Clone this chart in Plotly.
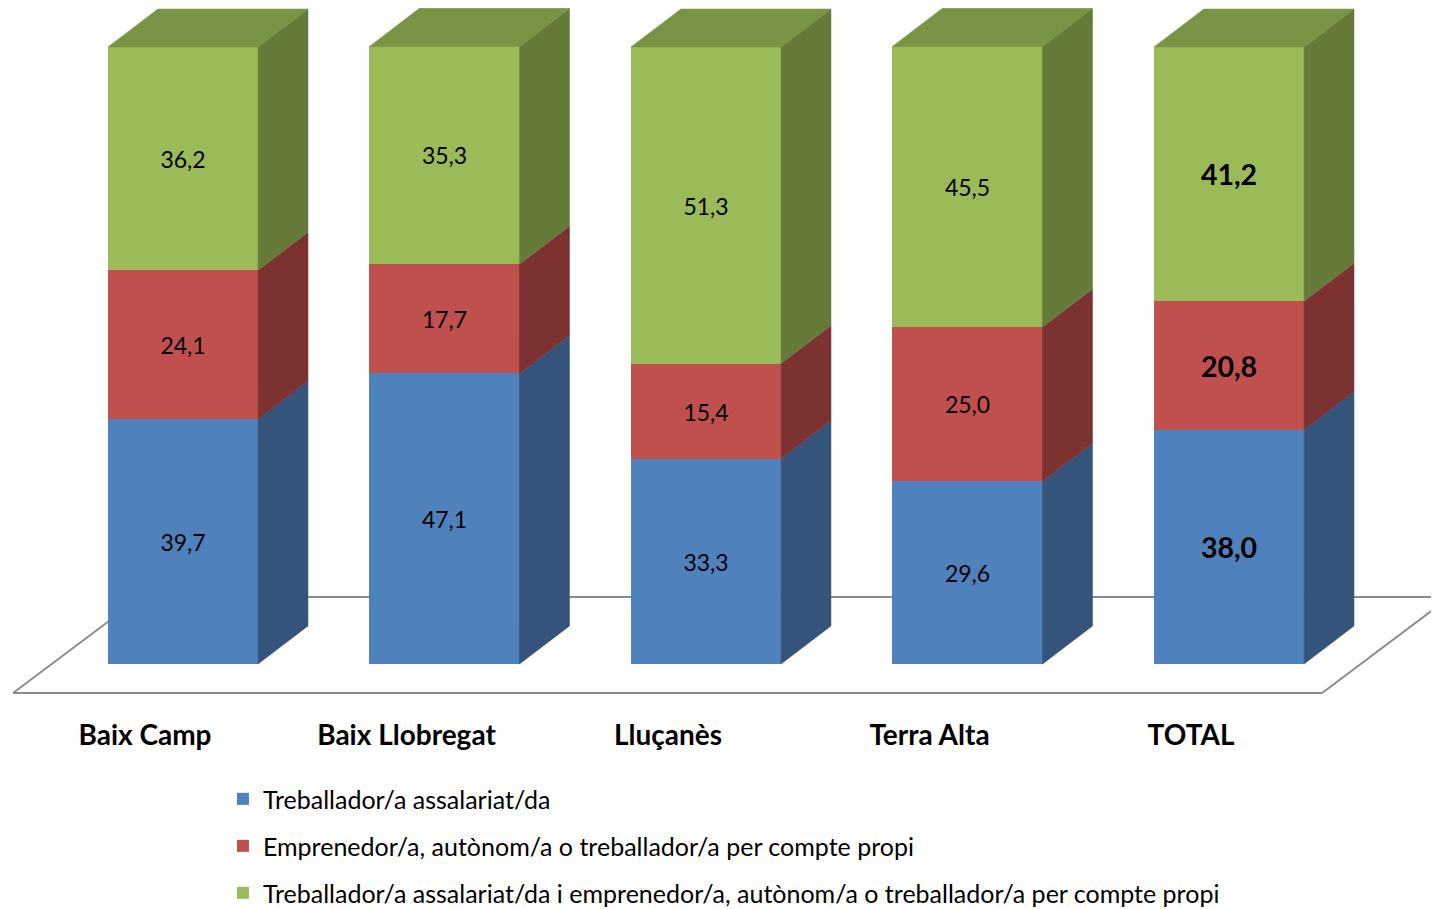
import plotly.graph_objects as go

# ---- data ----
categories = ["Baix Camp", "Baix Llobregat", "Lluçanès", "Terra Alta", "TOTAL"]
series_names = [
    "Treballador/a assalariat/da",
    "Emprenedor/a, autònom/a o treballador/a per compte propi",
    "Treballador/a assalariat/da i emprenedor/a, autònom/a o treballador/a per compte propi",
]
assalariat = [39.7, 47.1, 33.3, 29.6, 38.0]
emprenedor = [24.1, 17.7, 15.4, 25.0, 20.8]
ambdos = [36.2, 35.3, 51.3, 45.5, 41.2]
bold_category = "TOTAL"

# ---- styling ----
front_colors = ["#4F81BD", "#C0504D", "#9BBB59"]
side_colors = ["#34547C", "#7B3230", "#667B39"]
top_color = "#7A9446"
BAR_W = 0.574          # bar width in category units
DX = 0.191             # depth offset (x, category units)
DY = 6.16              # depth offset (y, value units)
FONT = "Lato"

series = [assalariat, emprenedor, ambdos]
n = len(categories)
xs = list(range(n))


def fmt(v):
    return f"{v:.1f}".replace(".", ",")


fig = go.Figure()

# side and top faces (derived from the stacked values)
for i in range(n):
    base = 0.0
    xr = xs[i] + BAR_W / 2
    xl = xs[i] - BAR_W / 2
    for s, vals in enumerate(series):
        y0, y1 = base, base + vals[i]
        fig.add_trace(go.Scatter(
            x=[xr, xr + DX, xr + DX, xr, xr],
            y=[y0, y0 + DY, y1 + DY, y1, y0],
            fill="toself", fillcolor=side_colors[s], mode="lines",
            line=dict(color=side_colors[s], width=0.5),
            showlegend=False, hoverinfo="skip"))
        base = y1
    fig.add_trace(go.Scatter(
        x=[xl, xl + DX, xr + DX, xr, xl],
        y=[base, base + DY, base + DY, base, base],
        fill="toself", fillcolor=top_color, mode="lines",
        line=dict(color=top_color, width=0.5),
        showlegend=False, hoverinfo="skip"))

# front faces
for s, vals in enumerate(series):
    texts = [f"<b>{fmt(v)}</b>" if c == bold_category else fmt(v)
             for c, v in zip(categories, vals)]
    sizes = [28.5 if c == bold_category else 23 for c in categories]
    fig.add_trace(go.Bar(
        x=xs, y=vals, width=BAR_W, name=series_names[s],
        marker=dict(color=front_colors[s], line=dict(width=0)),
        text=texts, textposition="inside", insidetextanchor="middle",
        textangle=0, constraintext="none",
        textfont=dict(family=FONT, size=sizes, color="black"),
        legendgroup=f"g{s}", hoverinfo="skip"))

# floor (chart frame)
fx0, fx1 = -0.5 - 0.15, n - 0.5 - 0.144
fy_front, fy_back = -4.70, 10.86
fdx = 0.4895
floor_color = "#8C8C8C"
for (xa, ya, xb, yb) in [
    (fx0, fy_front, fx1, fy_front),
    (fx0, fy_front, fx0 + fdx, fy_back),
    (fx1, fy_front, fx1 + fdx, fy_back),
    (fx0 + fdx, fy_back, fx1 + fdx, fy_back),
]:
    fig.add_shape(type="line", x0=xa, y0=ya, x1=xb, y1=yb, layer="below",
                  line=dict(color=floor_color, width=2))

label_shift = 0.1453
fig.update_layout(
    width=1431, height=901,
    margin=dict(l=0, r=0, t=0, b=204, autoexpand=False),
    paper_bgcolor="white", plot_bgcolor="white",
    barmode="stack", bargap=0,
    font=dict(family=FONT, color="black"),
    xaxis=dict(range=[-0.6692, 4.803], showgrid=False, zeroline=False,
               showline=False, ticks="", ticklabelstandoff=11,
               tickvals=[x - label_shift for x in xs], ticktext=categories,
               tickfont=dict(family=FONT, size=28, color="black", weight="bold")),
    yaxis=dict(range=[-6.645, 106.32], showgrid=False, zeroline=False,
               showline=False, showticklabels=False, ticks=""),
    legend=dict(x=0.1502, y=-0.102, xanchor="left", yanchor="top",
                traceorder="grouped", tracegroupgap=11.5,
                font=dict(family=FONT, size=25, color="black"),
                bgcolor="rgba(0,0,0,0)"),
)

fig.write_html("out.html")
